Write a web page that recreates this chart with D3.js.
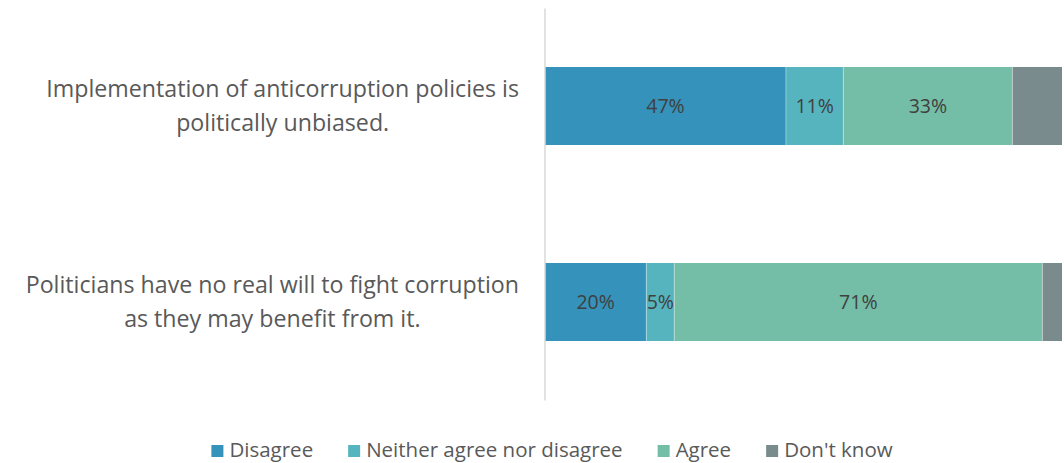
<!DOCTYPE html>
<html>
<head>
<meta charset="utf-8">
<script src="https://cdn.jsdelivr.net/npm/d3@7"></script>
<style>
  html, body { margin: 0; padding: 0; background: #fff; }
  svg { display: block; font-family: "Open Sans", Lato, sans-serif; }
</style>
</head>
<body>
<svg id="chart" width="1064" height="463"></svg>
<script>
// ---- data ----
const categories = [
  ["Implementation of anticorruption policies is", "politically unbiased."],
  ["Politicians have no real will to fight corruption", "as they may benefit from it."]
];
const seriesNames = ["Disagree", "Neither agree nor disagree", "Agree", "Don't know"];
const seriesColors = ["#3592BA", "#56B4BE", "#74BDA6", "#7A8B8D"];
const disagree = [0.466, 0.196];
const neither  = [0.111, 0.054];
const agree    = [0.327, 0.712];
const dontKnow = [0.096, 0.038];
const showLabel = [true, true, true, false];

// ---- layout ----
const svg = d3.select("#chart");
const plot = { left: 545, right: 1062, top: 8, bottom: 400 };

const rows = categories.map((c, i) => ({
  key: c.join(" "), lines: c,
  values: [disagree[i], neither[i], agree[i], dontKnow[i]]
}));

const x = d3.scaleLinear().domain([0, 1]).range([plot.left, plot.right]);
const y = d3.scaleBand().domain(rows.map(r => r.key))
  .range([plot.top, plot.bottom]).paddingInner(0.602).paddingOuter(0.301);

const stackData = rows.map(r => {
  const o = { key: r.key };
  seriesNames.forEach((s, j) => o[s] = r.values[j]);
  return o;
});
const stacked = d3.stack().keys(seriesNames)(stackData);

const gBars = svg.append("g");
stacked.forEach((layer, j) => {
  const g = gBars.append("g").attr("fill", seriesColors[j]);
  g.selectAll("rect").data(layer).join("rect")
    .attr("x", d => x(d[0]))
    .attr("y", d => y(d.data.key))
    .attr("width", d => x(d[1]) - x(d[0]))
    .attr("height", y.bandwidth());
});
stacked.forEach((layer, j) => {
  if (!showLabel[j]) return;
  gBars.append("g").selectAll("text").data(layer).join("text")
    .attr("x", d => (x(d[0]) + x(d[1])) / 2)
    .attr("y", d => y(d.data.key) + y.bandwidth() / 2)
    .attr("dy", "0.36em")
    .attr("text-anchor", "middle")
    .attr("fill", "#404040")
    .attr("font-size", 19.5)
    .text(d => d3.format(".0%")(d[1] - d[0]));
});

// thin separators between segments
stacked.slice(1).forEach(layer => {
  gBars.append("g").selectAll("line").data(layer).join("line")
    .attr("x1", d => x(d[0])).attr("x2", d => x(d[0]))
    .attr("y1", d => y(d.data.key)).attr("y2", d => y(d.data.key) + y.bandwidth())
    .attr("stroke", "#fff").attr("stroke-opacity", 0.5).attr("stroke-width", 0.75);
});

// vertical axis line
const yAxis = d3.axisLeft(y).tickSize(0).tickFormat("");
const ga = svg.append("g").attr("transform", `translate(${plot.left - 0.5},0)`).call(yAxis);
ga.select(".domain").attr("stroke", "#D9D9D9").attr("stroke-width", 1.5);

// category labels
const labelRight = 519;
const lineH = 34;
rows.forEach(r => {
  const cy = y(r.key) + y.bandwidth() / 2;
  const t = svg.append("text").attr("font-size", 23.2).attr("fill", "#595959")
    .attr("text-anchor", "middle");
  const spans = r.lines.map((ln, k) => t.append("tspan").text(ln)
    .attr("y", cy + (k - (r.lines.length - 1) / 2) * lineH).attr("dy", "0.35em"));
  const maxW = d3.max(spans, s => s.node().getComputedTextLength());
  spans.forEach(s => s.attr("x", labelRight - maxW / 2));
});

// legend
const legend = svg.append("g");
const legY = 450, sw = 12, gap = 35;
let lx = 0;
seriesNames.forEach((s, j) => {
  const g = legend.append("g");
  g.append("rect").attr("x", 0).attr("y", -sw / 2 + 1).attr("width", sw).attr("height", sw).attr("fill", seriesColors[j]);
  const tx = g.append("text").attr("x", sw + 6).attr("dy", "0.35em")
    .attr("font-size", 20.5).attr("fill", "#595959").text(s);
  const w = sw + 6 + tx.node().getComputedTextLength();
  g.attr("transform", `translate(${lx},${legY})`);
  lx += w + gap;
});
const totalW = lx - gap;
legend.attr("transform", `translate(${552 - totalW / 2},0)`);
</script>
</body>
</html>
